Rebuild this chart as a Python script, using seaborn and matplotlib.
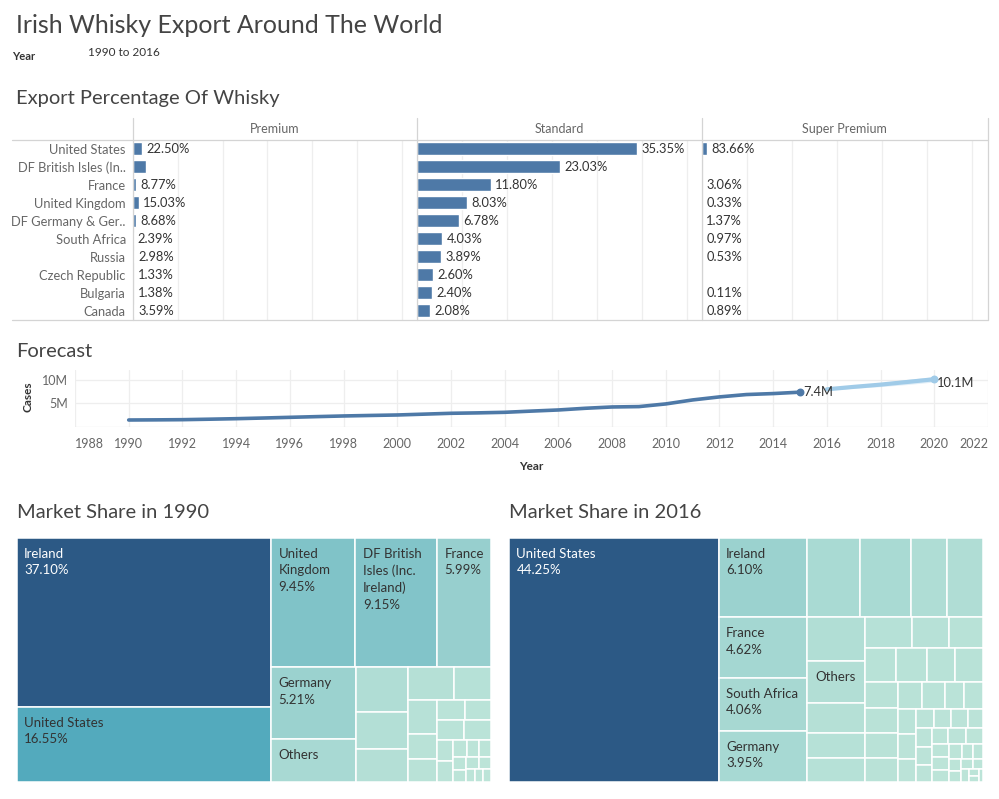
import textwrap
import numpy as np
import pandas as pd
import matplotlib
matplotlib.use("Agg")
import matplotlib.pyplot as plt
import seaborn as sns
from matplotlib.patches import Rectangle
from matplotlib.lines import Line2D
from matplotlib.colors import LinearSegmentedColormap, Normalize

# ---------------- data ----------------
countries = ["United States", "DF British Isles (In..", "France", "United Kingdom",
             "DF Germany & Ger..", "South Africa", "Russia", "Czech Republic",
             "Bulgaria", "Canada"]
tiers = ["Premium", "Standard", "Super Premium"]
premium_pct = [22.50, 32.40, 8.77, 15.03, 8.68, 2.39, 2.98, 1.33, 1.38, 3.59]
standard_pct = [35.35, 23.03, 11.80, 8.03, 6.78, 4.03, 3.89, 2.60, 2.40, 2.08]
super_pct = [83.66, np.nan, 3.06, 0.33, 1.37, 0.97, 0.53, np.nan, 0.11, 0.89]
tier_total_cases = [0.456e6, 6.91e6, 0.067e6]
hidden_labels = [("Premium", "DF British Isles (In..")]

years = list(range(1990, 2016))
cases_m = [1.43, 1.46, 1.50, 1.60, 1.71, 1.85, 2.00, 2.15, 2.29, 2.40, 2.50, 2.68, 2.86,
           2.95, 3.07, 3.33, 3.57, 3.93, 4.21, 4.29, 4.86, 5.71, 6.36, 6.86, 7.07, 7.37]
fc_years = [2016, 2017, 2018, 2019, 2020]
fc_cases_m = [7.98, 8.50, 8.98, 9.55, 10.13]
fc_low_m = [7.80, 8.20, 8.55, 9.00, 9.55]
fc_high_m = [8.16, 8.80, 9.40, 10.10, 10.70]

labels_1990 = ["Ireland", "United States", "United Kingdom",
               "DF British Isles (Inc. Ireland)", "France", "Germany", "Others"]
share_1990 = [37.10, 16.55, 9.45, 9.15, 5.99, 5.21, 3.17]
minor_1990 = [2.02, 1.65, 1.49, 1.29, 1.03, 0.86, 0.61, 0.59, 0.50, 0.46, 0.46, 0.44,
              0.30, 0.30, 0.21, 0.18, 0.17, 0.15, 0.14, 0.13, 0.12, 0.10, 0.09, 0.09]
spec_1990 = [("col", 2), ("row", 3), ("col", 2)]

labels_2016 = ["United States", "Ireland", "", "", "", "", "France", "South Africa",
               "Germany", "", "Others", "", "", ""]
share_2016 = [44.25, 6.10, 3.58, 3.56, 2.47, 2.45, 4.62, 4.06, 3.95,
              2.15, 2.12, 1.49, 1.24, 1.19]
minor_2016 = [1.25, 1.01, 0.91, 0.90, 0.88, 0.81, 0.80, 0.73, 0.71, 0.71, 0.68, 0.57,
              0.52, 0.45, 0.43, 0.40, 0.38, 0.37, 0.31, 0.30, 0.29, 0.25, 0.26, 0.25,
              0.24, 0.21, 0.24, 0.22, 0.20, 0.19, 0.18, 0.17, 0.15, 0.14, 0.13, 0.12,
              0.10, 0.09, 0.08, 0.06, 0.05, 0.05]
spec_2016 = [("col", 1), ("row", 5), ("col", 3), ("col", 5)]

# ---------------- style ----------------
sns.set_theme(style="white")
plt.rcParams["font.family"] = ["Lato", "DejaVu Sans"]
DARK = "#333333"
TITLE = "#444444"
GREY = "#666666"
LINE = "#d4d4d4"
GRID = "#eeeeee"
BLUE = "#4e79a7"

W, H = 999, 799
fig = plt.figure(figsize=(W / 100, H / 100), dpi=100)


def add_ax(x0, y0, x1, y1):
    return fig.add_axes([x0 / W, 1 - y1 / H, (x1 - x0) / W, (y1 - y0) / H])


def ftext(x, y, s, **kw):
    return fig.text(x / W, 1 - y / H, s, **kw)


def fline(x0, y0, x1, y1, color=LINE, lw=0.9):
    fig.add_artist(Line2D([x0 / W, x1 / W], [1 - y0 / H, 1 - y1 / H],
                          color=color, lw=lw, transform=fig.transFigure))


# ---------------- titles ----------------
ftext(16, 33, "Irish Whisky Export Around The World", fontsize=18,
      fontweight="normal", color=TITLE, va="baseline")
ftext(12, 57, "Year", fontsize=8, fontweight="bold", color=DARK, va="center")
ftext(88, 52, "1990 to 2016", fontsize=8.5, color=DARK, va="center")
ftext(16, 104, "Export Percentage Of Whisky", fontsize=14.5, fontweight="normal",
      color=TITLE, va="baseline")
ftext(16, 357, "Forecast", fontsize=14.5, fontweight="normal", color=TITLE,
      va="baseline")
ftext(17, 518, "Market Share in 1990", fontsize=14.5, fontweight="normal", color=TITLE,
      va="baseline")
ftext(509, 518, "Market Share in 2016", fontsize=14.5, fontweight="normal", color=TITLE,
      va="baseline")

# ---------------- bar panels ----------------
pct_table = {"Premium": premium_pct, "Standard": standard_pct,
             "Super Premium": super_pct}
rows = []
for t, total in zip(tiers, tier_total_cases):
    for c, p in zip(countries, pct_table[t]):
        rows.append({"tier": t, "country": c, "pct": p,
                     "cases": p / 100 * total if not np.isnan(p) else np.nan})
df = pd.DataFrame(rows)

panel_x = [132.7, 417.3, 702, 987.5]
ptop, pbot = 139.5, 320
xmax = 3.167e6
for k, t in enumerate(tiers):
    ax = add_ax(panel_x[k], ptop, panel_x[k + 1], pbot)
    sub = df[df["tier"] == t].dropna(subset=["cases"])
    sns.barplot(data=sub, x="cases", y="country", order=countries, color=BLUE,
                saturation=1, width=0.72, errorbar=None, ax=ax)
    ax.set_xlim(0, xmax)
    ax.set_ylim(len(countries) - 0.5, -0.5)
    ax.set_xticks(np.arange(0, xmax, 0.5e6))
    ax.set_xticklabels([])
    ax.grid(axis="x", color=GRID, lw=0.9)
    ax.set_axisbelow(True)
    ax.tick_params(length=0, pad=5)
    ax.set_xlabel("")
    ax.set_ylabel("")
    for s in ax.spines.values():
        s.set_visible(False)
    if k == 0:
        for lab in ax.get_yticklabels():
            lab.set_color(GREY)
            lab.set_fontsize(9.3)
    else:
        ax.set_yticklabels([])
    d = df[df["tier"] == t].reset_index(drop=True)
    for i, r in d.iterrows():
        if np.isnan(r["pct"]) or (t, r["country"]) in hidden_labels:
            continue
        ax.annotate(f"{r['pct']:.2f}%", (r["cases"], i), xytext=(3, 0),
                    textcoords="offset points", va="center", ha="left",
                    fontsize=9.3, color=DARK)
    ftext((panel_x[k] + panel_x[k + 1]) / 2, 129, t, ha="center", va="center",
          fontsize=9, color=GREY)

fline(12, ptop, 988, ptop)
fline(12, pbot, 988, pbot)
for xv in panel_x:
    fline(xv, 118, xv, pbot)

# ---------------- forecast ----------------
axf = add_ax(75, 370, 988, 426.7)
sns.lineplot(x=years, y=np.array(cases_m) * 1e6, color=BLUE, lw=2.6, ax=axf)
axf.fill_between(fc_years, np.array(fc_low_m) * 1e6, np.array(fc_high_m) * 1e6,
                 color="#a0cbe8", alpha=0.3, lw=0)
sns.lineplot(x=fc_years, y=np.array(fc_cases_m) * 1e6, color="#a0cbe8", lw=3, ax=axf)
axf.scatter([years[-1]], [cases_m[-1] * 1e6], s=22, color=BLUE, zorder=5)
axf.scatter([fc_years[-1]], [fc_cases_m[-1] * 1e6], s=22, color="#a0cbe8", zorder=5)
axf.annotate(f"{cases_m[-1]:.1f}M", (years[-1], cases_m[-1] * 1e6), xytext=(2, 0),
             textcoords="offset points", va="center", ha="left", fontsize=9.3,
             color=DARK)
axf.annotate(f"{fc_cases_m[-1]:.1f}M", (fc_years[-1], fc_cases_m[-1] * 1e6),
             xytext=(2, -3), textcoords="offset points", va="center", ha="left",
             fontsize=9.3, color=DARK)
axf.set_xlim(1988, 2022)
axf.set_ylim(0, 12.1e6)
axf.set_xticks(list(range(1988, 2023, 2)))
axf.set_xticklabels([str(y) for y in range(1988, 2023, 2)])
axf.set_yticks([5e6, 10e6])
axf.set_yticklabels(["5M", "10M"])
axf.tick_params(axis="both", length=0, labelsize=9, labelcolor=GREY)
axf.tick_params(axis="x", pad=8)
axf.tick_params(axis="y", pad=5)
xl = axf.get_xticklabels()
xl[0].set_ha("left")
xl[-1].set_ha("right")
axf.grid(True, color=GRID, lw=0.9)
axf.set_axisbelow(True)
for s in axf.spines.values():
    s.set_visible(False)
axf.axhline(0, color="#e2e2e2", lw=0.9)
axf.set_xlabel("")
axf.set_ylabel("")
ftext(28, 397, "Cases", rotation=90, ha="center", va="center", fontsize=8.5,
      fontweight="bold", color=DARK)
ftext(531, 466, "Year", ha="center", va="center", fontsize=8.5,
      fontweight="bold", color=DARK)

# ---------------- treemaps ----------------
cmap = LinearSegmentedColormap.from_list("blueteal", ["#bce4d8", "#45a2b9", "#2c5985"])


def place(row, x, y, w, h, orient):
    out = []
    s = sum(row)
    if orient == "col":
        t = s / h
        yy = y
        for v in row:
            hh = v / t
            out.append((x, yy, t, hh))
            yy += hh
        return out, (x + t, y, w - t, h)
    t = s / w
    xx = x
    for v in row:
        ww = v / t
        out.append((xx, y, ww, t))
        xx += ww
    return out, (x, y + t, w, h - t)


def worst(row, side):
    s = sum(row)
    t = s / side
    return max(max(t / (v / t), (v / t) / t) for v in row)


def treemap_layout(areas, region, spec):
    rects = []
    i = 0
    x, y, w, h = region
    for orient, n in spec:
        r, (x, y, w, h) = place(areas[i:i + n], x, y, w, h, orient)
        rects += r
        i += n
    rest = list(areas[i:])
    while rest:
        side = h if w >= h else w
        k = 1
        while k < len(rest) and worst(rest[:k + 1], side) <= worst(rest[:k], side):
            k += 1
        r, (x, y, w, h) = place(rest[:k], x, y, w, h, "col" if w >= h else "row")
        rects += r
        rest = rest[k:]
    return rects


def draw_treemap(box, labels, shares, minor, spec):
    x0, y0, x1, y1 = box
    ax = add_ax(x0, y0, x1, y1)
    Wt, Ht = x1 - x0, y1 - y0
    vals = np.array(list(shares) + list(minor), dtype=float)
    areas = vals / vals.sum() * Wt * Ht
    rects = treemap_layout(list(areas), (0, 0, Wt, Ht), spec)
    norm = Normalize(vmin=vals.min(), vmax=vals.max())
    for j, ((rx, ry, rw, rh), v) in enumerate(zip(rects, vals)):
        ax.add_patch(Rectangle((rx, ry), rw, rh, facecolor=cmap(norm(v)),
                               edgecolor="white", lw=1.1))
        name = labels[j] if j < len(labels) else ""
        if name:
            nch = max(1, int((rw - 10) / 6.2))
            txt = textwrap.fill(name, width=nch)
            if name != "Others":
                txt += f"\n{v:.2f}%"
            col = "white" if v / vals.max() > 0.6 else DARK
            ax.text(rx + 7.5, ry + 10, txt, ha="left", va="top", fontsize=9.5,
                    color=col, linespacing=1.45)
    ax.set_xlim(0, Wt)
    ax.set_ylim(Ht, 0)
    ax.axis("off")


draw_treemap((16.7, 537.7, 490.7, 782.3), labels_1990, share_1990, minor_1990, spec_1990)
draw_treemap((509, 537.7, 983, 782.3), labels_2016, share_2016, minor_2016, spec_2016)

fig.savefig("out.png", dpi=100)
